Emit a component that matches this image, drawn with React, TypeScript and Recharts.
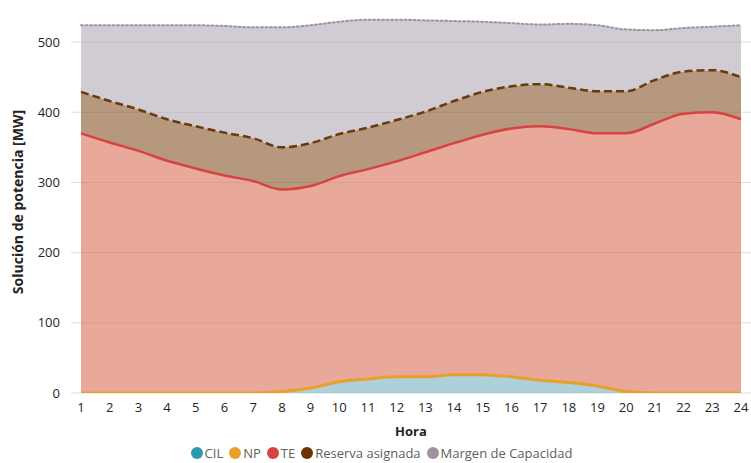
import React from "react";
import { ComposedChart, Area, XAxis, YAxis, CartesianGrid, Legend } from "recharts";

const hours = [1, 2, 3, 4, 5, 6, 7, 8, 9, 10, 11, 12, 13, 14, 15, 16, 17, 18, 19, 20, 21, 22, 23, 24];
const cil = [0, 0, 0, 0, 0, 0, 0, 2, 7, 16, 20, 23, 23, 26, 26, 23, 18, 15, 10, 2, 0, 0, 0, 0];
const np = [0, 0, 0, 0, 0, 0, 0, 0, 0, 0, 0, 0, 0, 0, 0, 0, 0, 0, 0, 0, 0, 0, 0, 0];
const te = [370, 357, 345, 331, 320, 310, 302, 288, 288, 293, 299, 307, 320, 330, 342, 354, 362, 361, 360, 368, 384, 398, 400, 390];
const reserva = [59, 59, 59, 59, 60, 61, 61, 60, 61, 60, 59, 59, 58, 60, 61, 60, 60, 59, 60, 60, 62, 60, 60, 60];
const margen = [95, 108, 120, 134, 144, 152, 158, 171, 168, 160, 154, 143, 130, 114, 100, 90, 85, 91, 94, 88, 71, 62, 62, 74];
const yTicks = [0, 100, 200, 300, 400, 500];

const data = hours.map((h, i) => ({
  hora: h,
  CIL: cil[i],
  NP: np[i],
  TE: te[i],
  Reserva: reserva[i],
  Margen: margen[i],
}));

const FONT = "'Open Sans', 'Noto Sans', sans-serif";

const series = [
  { key: "CIL", name: "CIL", legend: "#2a9cae", fill: "#78b1be", stroke: "none", width: 0, dash: undefined as string | undefined },
  { key: "NP", name: "NP", legend: "#e8a02a", fill: "#e8a02a", stroke: "#e8a02a", width: 3, dash: undefined },
  { key: "TE", name: "TE", legend: "#d94242", fill: "#d97058", stroke: "#d94242", width: 2.5, dash: undefined },
  { key: "Reserva", name: "Reserva asignada", legend: "#6b3500", fill: "#85532a", stroke: "#6b3a0a", width: 2.5, dash: "8 4" },
  { key: "Margen", name: "Margen de Capacidad", legend: "#9e93a3", fill: "#b2a8b6", stroke: "#9e93a3", width: 2, dash: "2 2.5" },
];

const LegendContent = () => (
  <div
    style={{
      display: "flex",
      justifyContent: "center",
      alignItems: "center",
      height: 20,
      paddingTop: 4,
      paddingLeft: 12,
      fontFamily: FONT,
      fontSize: 13,
      color: "#605e5c",
    }}
  >
    {series.map((s, i) => (
      <div key={s.key} style={{ display: "flex", alignItems: "center", marginRight: i === series.length - 1 ? 0 : 6 }}>
        <span
          style={{
            display: "inline-block",
            width: 12,
            height: 12,
            borderRadius: 6,
            background: s.legend,
            marginRight: 2,
          }}
        />
        <span>{s.name}</span>
      </div>
    ))}
  </div>
);

const YLabel = (props: any) => {
  const vb = props.viewBox || {};
  const cy = (vb.y || 0) + (vb.height || 0) / 2 + 2;
  return (
    <text
      x={17}
      y={cy}
      transform={`rotate(-90, 17, ${cy})`}
      textAnchor="middle"
      dominantBaseline="central"
      fontFamily={FONT}
      fontSize={14}
      fontWeight="bold"
      fill="#252423"
    >
      Solución de potencia [MW]
    </text>
  );
};

export default function App() {
  return (
    <div style={{ position: "absolute", left: 0, top: 0, width: 751, height: 463, background: "#fff" }}>
      <ComposedChart width={751} height={463} data={data} margin={{ top: 7, right: 0, bottom: 0, left: 0 }}>
        <CartesianGrid vertical={false} stroke="#dedede" horizontalValues={yTicks} />
        <XAxis
          dataKey="hora"
          type="number"
          domain={[1, 24]}
          ticks={hours}
          interval={0}
          padding={{ left: 10, right: 10 }}
          height={46}
          tickLine={false}
          axisLine={false}
          tick={{ fontFamily: FONT, fontSize: 13, fill: "#252423" }}
          tickMargin={4}
          label={{
            value: "Hora",
            position: "insideBottom",
            offset: 3,
            style: { fontFamily: FONT, fontSize: 13, fontWeight: "bold", fill: "#252423" },
          }}
        />
        <YAxis
          width={71}
          domain={[0, 550]}
          ticks={yTicks}
          allowDataOverflow
          tickLine={false}
          axisLine={false}
          tickSize={6}
          tickMargin={5}
          tick={{ fontFamily: FONT, fontSize: 13, fill: "#252423" }}
          label={<YLabel />}
        />
        {series.map((s) => (
          <Area
            key={"f-" + s.key}
            type="monotone"
            dataKey={s.key}
            name={s.name}
            stackId="fill"
            fill={s.fill}
            fillOpacity={0.6}
            stroke="none"
            isAnimationActive={false}
            legendType="none"
            activeDot={false}
          />
        ))}
        {series.map((s) => (
          <Area
            key={"s-" + s.key}
            type="monotone"
            dataKey={s.key}
            name={s.name + " "}
            stackId="line"
            fill="none"
            stroke={s.stroke}
            strokeWidth={s.width}
            strokeDasharray={s.dash}
            strokeLinecap={s.key === "Margen" ? "round" : "butt"}
            isAnimationActive={false}
            legendType="none"
            activeDot={false}
          />
        ))}
        <Legend verticalAlign="bottom" content={<LegendContent />} />
      </ComposedChart>
    </div>
  );
}
